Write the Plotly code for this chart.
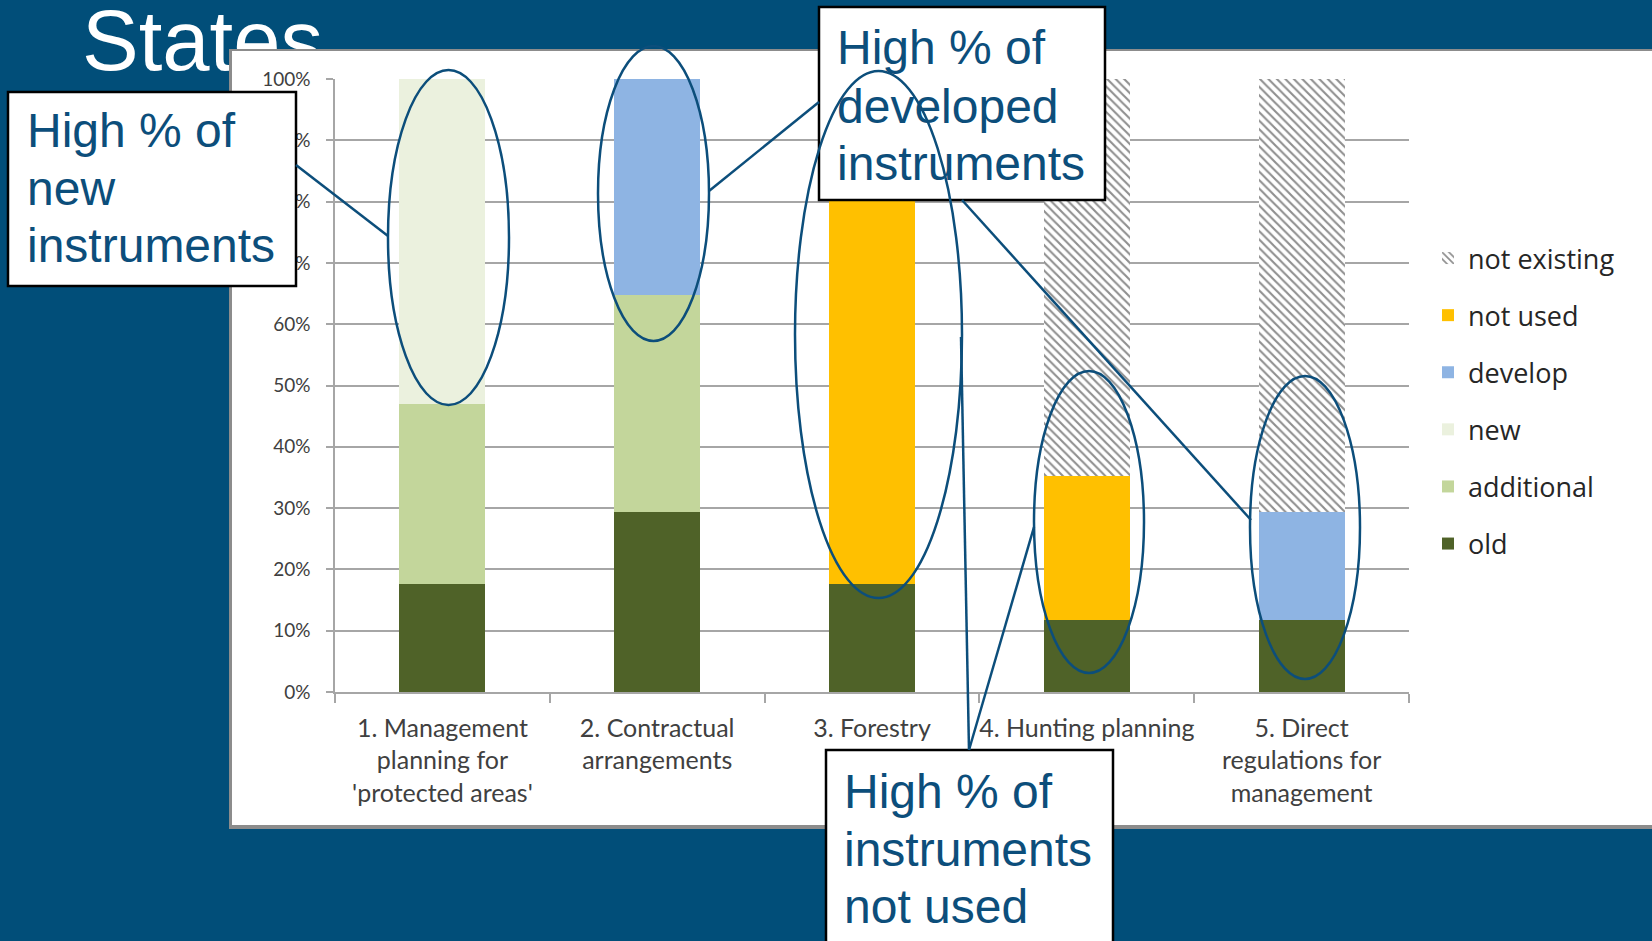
import plotly.graph_objects as go

W, H = 1652, 941

# ---------------- data ----------------
categories = [
    "1. Management<br>planning for<br>'protected areas'",
    "2. Contractual<br>arrangements",
    "3. Forestry<br>planning",
    "4. Hunting planning",
    "5. Direct<br>regulations for<br>management",
]
old = [0.176, 0.294, 0.176, 0.118, 0.118]
additional = [0.294, 0.353, 0.0, 0.0, 0.0]
new = [0.530, 0.0, 0.0, 0.0, 0.0]
develop = [0.0, 0.353, 0.0, 0.0, 0.176]
not_used = [0.0, 0.0, 0.824, 0.235, 0.0]
not_existing = [0.0, 0.0, 0.0, 0.647, 0.706]
series_names = ["old", "additional", "new", "develop", "not used", "not existing"]
y_tick_vals = [0, 0.1, 0.2, 0.3, 0.4, 0.5, 0.6, 0.7, 0.8, 0.9, 1.0]
y_tick_text = ["0%", "10%", "20%", "30%", "40%", "50%", "60%", "70%", "80%", "90%", "100%"]
title_text = "States"
callout_lines = [
    ["High % of", "new", "instruments"],
    ["High % of", "developed", "instruments"],
    ["High % of", "instruments", "not used"],
]

# ---------------- style ----------------
BG = "#014E79"
NAVY = "#0C4E7B"
GRID = "#A6A6A6"
colors = {
    "old": "#4F6228",
    "additional": "#C3D69B",
    "new": "#EBF1DE",
    "develop": "#8EB4E3",
    "not used": "#FFC000",
}
LABEL_FONT = "Lato"


def px(x):
    return x / W


def py(y):
    return 1 - y / H


fig = go.Figure()

# ---- decoration layer (pixel coordinate subplot x/y, drawn first) ----
fig.add_trace(go.Scatter(
    x=[82], y=[49], mode="text", text=[title_text], textposition="middle right",
    textfont=dict(family="Liberation Sans, Arial", size=85, color="white"),
    showlegend=False, hoverinfo="skip", xaxis="x", yaxis="y"))
fig.add_trace(go.Scatter(
    x=[229, 1660, 1660, 229, 229], y=[49, 49, 829, 829, 49], mode="lines",
    fill="toself", fillcolor="#8C8C8C", line=dict(width=0, color="#8C8C8C"),
    showlegend=False, hoverinfo="skip", xaxis="x", yaxis="y"))
fig.add_trace(go.Scatter(
    x=[232, 1660, 1660, 232, 232], y=[51, 51, 825, 825, 51], mode="lines",
    fill="toself", fillcolor="white", line=dict(width=0, color="white"),
    showlegend=False, hoverinfo="skip", xaxis="x", yaxis="y"))

# ---- bars ----
values = [old, additional, new, develop, not_used, not_existing]
for i, (name, vals) in enumerate(zip(series_names, values)):
    if name == "not existing":
        marker = dict(color="white", line=dict(width=0),
                      pattern=dict(shape="\\", fgcolor="#8F8F8F", bgcolor="white",
                                   size=6, solidity=0.35, fillmode="replace"))
    else:
        marker = dict(color=colors[name], line=dict(width=0))
    fig.add_trace(go.Bar(
        x=categories, y=vals, name=name, marker=marker, legendgroup=name,
        legendrank=100 - i, xaxis="x2", yaxis="y2", hoverinfo="skip"))

shapes = []
# callout boxes
boxes = [(8, 92, 296, 286), (819, 7, 1105, 200), (826, 750, 1113, 960)]
for x0, y0, x1, y1 in boxes:
    shapes.append(dict(type="rect", xref="paper", yref="paper",
                       x0=px(x0), x1=px(x1), y0=py(y1), y1=py(y0),
                       fillcolor="white", line=dict(color="black", width=2.5),
                       layer="above"))
# ellipses
ellipses = [(388, 70, 509, 405), (598, 46, 709, 341), (795, 71, 962, 598),
            (1034, 371, 1144, 673), (1250, 376, 1360, 679)]
for x0, y0, x1, y1 in ellipses:
    shapes.append(dict(type="circle", xref="paper", yref="paper",
                       x0=px(x0), x1=px(x1), y0=py(y1), y1=py(y0),
                       line=dict(color=NAVY, width=2.5), layer="above"))
# connectors
lines = [((296, 165), (388, 236)), ((819, 102), (709, 191)),
         ((962, 200), (1251, 520)), ((969, 750), (961, 337)),
         ((969, 750), (1034, 527))]
for (x0, y0), (x1, y1) in lines:
    shapes.append(dict(type="line", xref="paper", yref="paper",
                       x0=px(x0), x1=px(x1), y0=py(y0), y1=py(y1),
                       line=dict(color=NAVY, width=2.5), layer="above"))

annotations = []
text_pos = [(26, [147, 205, 263]), (836, [65, 123, 180]), (843, [808, 866, 923])]
for (tx, baselines), lines_txt in zip(text_pos, callout_lines):
    for b, t in zip(baselines, lines_txt):
        annotations.append(dict(
            text=t, xref="paper", yref="paper", x=px(tx), y=py(b - 17),
            xanchor="left", yanchor="middle", showarrow=False, borderpad=0,
            font=dict(family="Liberation Sans, Arial", size=48, color=NAVY)))

fig.update_layout(
    width=W, height=H,
    margin=dict(l=0, r=0, t=0, b=0, pad=0, autoexpand=False),
    paper_bgcolor=BG,
    plot_bgcolor="rgba(0,0,0,0)",
    barmode="stack",
    bargap=0.6,
    hovermode=False,
    xaxis=dict(domain=[0, 1], range=[0, W], visible=False, fixedrange=True,
               automargin=False),
    yaxis=dict(domain=[0, 1], range=[H, 0], visible=False, fixedrange=True,
               automargin=False),
    xaxis2=dict(domain=[px(335), px(1409)], anchor="y2", automargin=False,
                showline=True, linecolor=GRID, linewidth=1.5,
                ticks="outside", tickson="boundaries", ticklen=9,
                tickcolor=GRID, tickwidth=1.5, showgrid=False,
                tickangle=0, ticklabelstandoff=13,
                tickfont=dict(family=LABEL_FONT, size=25, color="#404040")),
    yaxis2=dict(domain=[py(692), py(79)], anchor="x2", range=[0, 1],
                automargin=False,
                tickvals=y_tick_vals, ticktext=y_tick_text,
                showline=True, linecolor=GRID, linewidth=1.5,
                ticks="outside", ticklen=7, tickcolor=GRID, tickwidth=1.5,
                showgrid=True, gridcolor=GRID, gridwidth=1.5, zeroline=False,
                ticklabelstandoff=12,
                tickfont=dict(family=LABEL_FONT, size=19, color="#404040")),
    legend=dict(x=px(1428), y=py(234), xanchor="left", yanchor="top",
                traceorder="grouped", tracegroupgap=19,
                bgcolor="rgba(0,0,0,0)",
                font=dict(family="Open Sans", size=27, color="#262626")),
    shapes=shapes,
    annotations=annotations,
)

fig.write_html("out.html")
